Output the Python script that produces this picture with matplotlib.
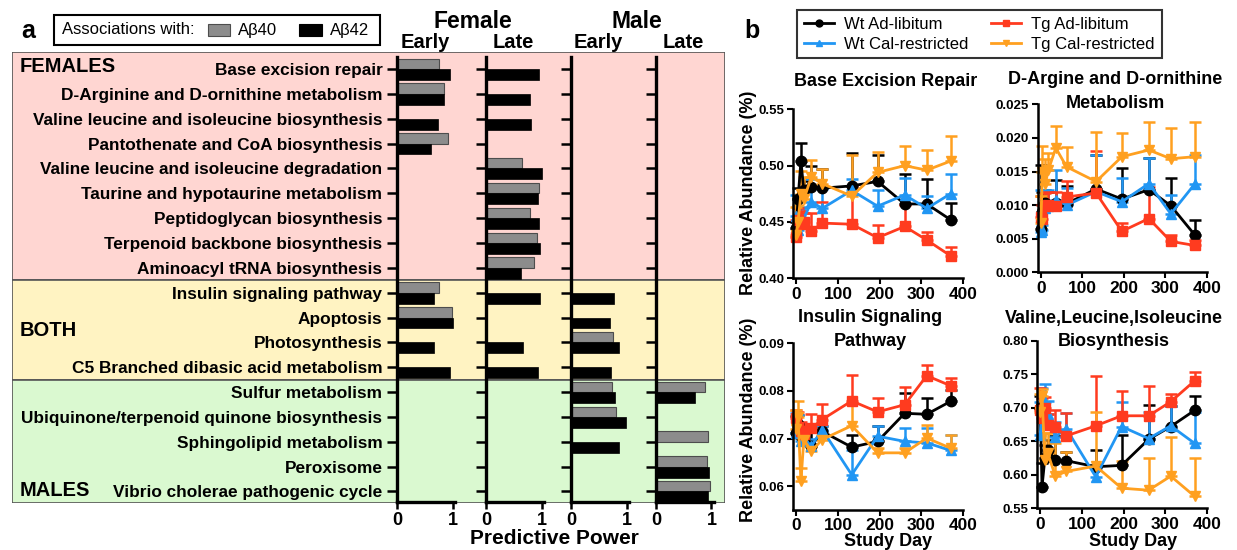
import matplotlib
matplotlib.use('Agg')
import matplotlib.pyplot as plt
from matplotlib.patches import Rectangle
from matplotlib.lines import Line2D
import numpy as np

plt.rcParams['font.family'] = ['Liberation Sans', 'DejaVu Sans']

W, H = 1237, 550
nan = np.nan

#----- PANEL a DATA -----
pathways = ['Base excision repair', 'D-Arginine and D-ornithine metabolism',
            'Valine leucine and isoleucine biosynthesis', 'Pantothenate and CoA biosynthesis',
            'Valine leucine and isoleucine degradation', 'Taurine and hypotaurine metabolism',
            'Peptidoglycan biosynthesis', 'Terpenoid backbone biosynthesis',
            'Aminoacyl tRNA biosynthesis', 'Insulin signaling pathway', 'Apoptosis',
            'Photosynthesis', 'C5 Branched dibasic acid metabolism', 'Sulfur metabolism',
            'Ubiquinone/terpenoid quinone biosynthesis', 'Sphingolipid metabolism',
            'Peroxisome', 'Vibrio cholerae pathogenic cycle']
group_names = ['FEMALES', 'BOTH', 'MALES']
group_colors = ['#ffd6d2', '#fff3c2', '#daf9d0']

#predictive power, nan = no association
fem_early_40 = [0.75, 0.85, nan, 0.91, nan, nan, nan, nan, nan, 0.76, 0.99, nan, nan, nan, nan, nan, nan, nan]
fem_early_42 = [0.95, 0.84, 0.73, 0.61, nan, nan, nan, nan, nan, 0.67, 1.01, 0.66, 0.95, nan, nan, nan, nan, nan]
fem_late_40 = [nan, nan, nan, nan, 0.65, 0.96, 0.80, 0.91, 0.86, nan, nan, nan, nan, nan, nan, nan, nan, nan]
fem_late_42 = [0.95, 0.79, 0.81, nan, 1.01, 0.94, 0.96, 0.97, 0.63, 0.98, nan, 0.67, 0.94, nan, nan, nan, nan, nan]
male_early_40 = [nan, nan, nan, nan, nan, nan, nan, nan, nan, nan, nan, 0.76, nan, 0.73, 0.81, nan, nan, nan]
male_early_42 = [nan, nan, nan, nan, nan, nan, nan, nan, nan, 0.77, 0.70, 0.86, 0.72, 0.79, 0.99, 0.86, nan, nan]
male_late_40 = [nan, nan, nan, nan, nan, nan, nan, nan, nan, nan, nan, nan, nan, 0.89, nan, 0.94, 0.91, 0.98]
male_late_42 = [nan, nan, nan, nan, nan, nan, nan, nan, nan, nan, nan, nan, nan, 0.71, nan, nan, 0.95, 0.94]

#----- PANEL b DATA -----
days = [0, 4, 11, 18, 36, 62, 133, 195, 260, 313, 370]
series_names = ['Wt Ad-libitum', 'Wt Cal-restricted', 'Tg Ad-libitum', 'Tg Cal-restricted']
series_colors = ['black', '#2196f3', '#ff3b1f', '#ffa020']
series_markers = ['o', '^', 's', 'v']

ber_wt_al = [0.445, 0.470, 0.504, 0.478, 0.481, 0.480, 0.482, 0.486, 0.466, 0.466, 0.452]
ber_wt_al_err = [0.005, 0.010, 0.016, 0.008, 0.019, 0.017, 0.029, 0.023, 0.027, 0.022, 0.015]
ber_wt_cr = [0.455, 0.443, 0.450, 0.453, 0.468, 0.462, 0.478, 0.464, 0.474, 0.462, 0.475]
ber_wt_cr_err = [0.019, 0.008, 0.012, 0.010, 0.020, 0.017, 0.010, 0.014, 0.015, 0.011, 0.018]
ber_tg_al = [0.437, 0.452, 0.448, 0.450, 0.442, 0.449, 0.448, 0.436, 0.446, 0.434, 0.420]
ber_tg_al_err = [0.015, 0.010, 0.012, 0.008, 0.016, 0.019, 0.034, 0.011, 0.019, 0.007, 0.008]
ber_tg_cr = [0.438, 0.450, 0.475, 0.470, 0.490, 0.484, 0.473, 0.494, 0.500, 0.496, 0.504]
ber_tg_cr_err = [0.025, 0.015, 0.020, 0.020, 0.015, 0.013, 0.036, 0.018, 0.017, 0.018, 0.022]

darg_wt_al = [0.0065, 0.0090, 0.0103, 0.0100, 0.0103, 0.0102, 0.0124, 0.0109, 0.0123, 0.0099, 0.0056]
darg_wt_al_err = [0.0095, 0.0030, 0.0020, 0.0020, 0.0034, 0.0026, 0.0050, 0.0046, 0.0047, 0.0041, 0.0022]
darg_wt_cr = [0.0060, 0.0063, 0.0095, 0.0098, 0.0108, 0.0100, 0.0120, 0.0105, 0.0132, 0.0087, 0.0131]
darg_wt_cr_err = [0.0063, 0.0008, 0.0028, 0.0025, 0.0044, 0.0025, 0.0055, 0.0035, 0.0038, 0.0028, 0.0043]
darg_tg_al = [0.0083, 0.0080, 0.0098, 0.0100, 0.0098, 0.0112, 0.0118, 0.0061, 0.0080, 0.0046, 0.0040]
darg_tg_al_err = [0.0030, 0.0020, 0.0020, 0.0020, 0.0022, 0.0024, 0.0062, 0.0013, 0.0047, 0.0010, 0.0008]
darg_tg_cr = [0.0073, 0.0150, 0.0132, 0.0152, 0.0185, 0.0157, 0.0135, 0.0172, 0.0182, 0.0169, 0.0172]
darg_tg_cr_err = [0.0040, 0.0038, 0.0037, 0.0025, 0.0033, 0.0029, 0.0074, 0.0035, 0.0042, 0.0045, 0.0052]

ins_wt_al = [0.0712, 0.0730, 0.0705, 0.0700, 0.0685, 0.0715, 0.0682, 0.0694, 0.0753, 0.0751, 0.0778]
ins_wt_al_err = [0.0035, 0.0020, 0.0020, 0.0020, 0.0041, 0.0011, 0.0026, 0.0033, 0.0042, 0.0034, 0.0024]
ins_wt_cr = [0.0712, 0.0730, 0.0695, 0.0700, 0.0684, 0.0719, 0.0624, 0.0705, 0.0694, 0.0691, 0.0675]
ins_wt_cr_err = [0.0041, 0.0020, 0.0020, 0.0030, 0.0015, 0.0007, 0.0053, 0.0021, 0.0028, 0.0031, 0.0033]
ins_tg_al = [0.0743, 0.0725, 0.0715, 0.0710, 0.0722, 0.0740, 0.0779, 0.0756, 0.0771, 0.0832, 0.0811]
ins_tg_al_err = [0.0017, 0.0030, 0.0020, 0.0020, 0.0030, 0.0033, 0.0055, 0.0030, 0.0037, 0.0023, 0.0016]
ins_tg_cr = [0.0720, 0.0745, 0.0610, 0.0698, 0.0673, 0.0698, 0.0727, 0.0670, 0.0670, 0.0701, 0.0680]
ins_tg_cr_err = [0.0040, 0.0033, 0.0028, 0.0020, 0.0010, 0.0010, 0.0047, 0.0010, 0.0010, 0.0028, 0.0028]

val_wt_al = [0.700, 0.582, 0.625, 0.637, 0.622, 0.621, 0.612, 0.614, 0.653, 0.672, 0.696]
val_wt_al_err = [0.017, 0.035, 0.020, 0.015, 0.036, 0.013, 0.025, 0.045, 0.051, 0.030, 0.021]
val_wt_cr = [0.659, 0.700, 0.709, 0.690, 0.657, 0.669, 0.597, 0.672, 0.654, 0.673, 0.647]
val_wt_cr_err = [0.050, 0.030, 0.026, 0.020, 0.022, 0.023, 0.013, 0.037, 0.040, 0.030, 0.046]
val_tg_al = [0.697, 0.684, 0.700, 0.675, 0.671, 0.658, 0.673, 0.688, 0.688, 0.709, 0.740]
val_tg_al_err = [0.033, 0.030, 0.016, 0.015, 0.026, 0.034, 0.074, 0.037, 0.044, 0.011, 0.013]
val_tg_cr = [0.694, 0.718, 0.622, 0.632, 0.598, 0.605, 0.613, 0.580, 0.577, 0.598, 0.568]
val_tg_cr_err = [0.027, 0.010, 0.040, 0.030, 0.050, 0.029, 0.081, 0.041, 0.048, 0.059, 0.057]

#----- HELPERS -----
def fx(x):
    return x / W

def fy(y):
    return 1 - y / H

def box(l, t, r, b):
    return [fx(l), fy(b), (r - l) / W, (b - t) / H]

fig = plt.figure(figsize=(W / 100, H / 100), dpi=100)

#----- PANEL a -----
row_h = 24.85
nrows = len(pathways)
rows = np.arange(nrows)

bg = fig.add_axes(box(12, 52, 725, 503))
bg.set_xlim(0, 1)
bg.set_ylim(nrows - 1 + (503 - 491.5) / row_h, -(69 - 52) / row_h)
bg.axis('off')
edges = [bg.get_ylim()[1], 8.5, 12.5, bg.get_ylim()[0]]
for g in range(3):
    bg.add_patch(Rectangle((0, edges[g]), 1, edges[g + 1] - edges[g],
                           facecolor=group_colors[g], edgecolor='#555555', lw=1.2))
for g, name in enumerate(group_names):
    y = [67, 330, 490][g]
    fig.text(fx(20), fy(y), name, fontsize=14.5, fontweight='bold', va='center', ha='left')

panels = [(fem_early_40, fem_early_42), (fem_late_40, fem_late_42),
          (male_early_40, male_early_42), (male_late_40, male_late_42)]
bar_left = [397, 486, 571, 656]
unit = 55.5
for k, (v40, v42) in enumerate(panels):
    ax = fig.add_axes(box(bar_left[k], 57, bar_left[k] + 1.04 * unit, 502))
    ax.set_facecolor('none')
    v40 = np.array(v40)
    v42 = np.array(v42)
    m = ~np.isnan(v40)
    ax.barh(rows[m] - 0.21, v40[m], height=0.42, color='#8c8c8c', edgecolor='#4d4d4d', lw=0.8)
    m = ~np.isnan(v42)
    ax.barh(rows[m] + 0.22, v42[m], height=0.44, color='black', edgecolor='black', lw=0.5)
    ax.set_xlim(0, 1.04)
    ax.set_ylim(nrows - 1 + (502 - 491.5) / row_h, -(69 - 57) / row_h)
    ax.set_yticks(rows)
    if k == 0:
        ax.set_yticklabels(pathways, fontsize=12.4, fontweight='bold')
    else:
        ax.set_yticklabels([])
    ax.set_xticks([0, 1])
    ax.set_xticklabels(['0', '1'], fontsize=13, fontweight='bold')
    for s in ['top', 'right']:
        ax.spines[s].set_visible(False)
    for s in ['left', 'bottom']:
        ax.spines[s].set_linewidth(2.4)
    ax.tick_params(axis='y', direction='out', length=7.5, width=1.8, pad=3)
    ax.tick_params(axis='x', direction='out', length=5, width=1.8, pad=2)

fig.text(fx(473), fy(21), 'Female', fontsize=16.5, fontweight='bold', ha='center', va='center')
fig.text(fx(637), fy(21), 'Male', fontsize=16.5, fontweight='bold', ha='center', va='center')
for x, lab in zip([425, 513, 598, 683], ['Early', 'Late', 'Early', 'Late']):
    fig.text(fx(x), fy(42), lab, fontsize=14.5, fontweight='bold', ha='center', va='center')
fig.text(fx(554), fy(538), 'Predictive Power', fontsize=15, fontweight='bold', ha='center', va='center')

#legend of panel a
fig.patches.append(Rectangle((fx(54), fy(45)), (380 - 54) / W, 30 / H, transform=fig.transFigure,
                             facecolor='white', edgecolor='black', lw=1.5))
fig.text(fx(62), fy(30), 'Associations with:', fontsize=12, va='center', ha='left')
fig.patches.append(Rectangle((fx(208), fy(36)), 22 / W, 12 / H, transform=fig.transFigure,
                             facecolor='#8c8c8c', edgecolor='#4d4d4d', lw=0.8))
fig.text(fx(238), fy(30), 'Aβ40', fontsize=12, va='center', ha='left')
fig.patches.append(Rectangle((fx(299), fy(36)), 23 / W, 12 / H, transform=fig.transFigure,
                             facecolor='black', edgecolor='black', lw=0.8))
fig.text(fx(330), fy(30), 'Aβ42', fontsize=12, va='center', ha='left')
fig.text(fx(28), fy(31), 'a', fontsize=18, fontweight='bold', ha='center', va='center')

#----- PANEL b -----
charts = [
    ([ber_wt_al, ber_wt_cr, ber_tg_al, ber_tg_cr], [ber_wt_al_err, ber_wt_cr_err, ber_tg_al_err, ber_tg_cr_err],
     (793, 109.3, 963, 278.3), (0.40, 0.55), np.arange(0.40, 0.551, 0.05), '%.2f'),
    ([darg_wt_al, darg_wt_cr, darg_tg_al, darg_tg_cr], [darg_wt_al_err, darg_wt_cr_err, darg_tg_al_err, darg_tg_cr_err],
     (1037.5, 104.3, 1207, 272.3), (0, 0.025), np.arange(0, 0.0251, 0.005), '%.3f'),
    ([ins_wt_al, ins_wt_cr, ins_tg_al, ins_tg_cr], [ins_wt_al_err, ins_wt_cr_err, ins_tg_al_err, ins_tg_cr_err],
     (793, 343.3, 963, 510), (0.055, 0.09), np.arange(0.06, 0.0901, 0.01), '%.2f'),
    ([val_wt_al, val_wt_cr, val_tg_al, val_tg_cr], [val_wt_al_err, val_wt_cr_err, val_tg_al_err, val_tg_cr_err],
     (1037, 340.7, 1207, 508.3), (0.55, 0.80), np.arange(0.55, 0.801, 0.05), '%.2f'),
]
titles = [(['Base Excision Repair'], 886, [82]),
          (['D-Argine and D-ornithine', 'Metabolism'], 1115, [80, 103]),
          (['Insulin Signaling', 'Pathway'], 870, [318, 342]),
          (['Valine,Leucine,Isoleucine', 'Biosynthesis'], 1114, [319, 342])]

for c, (vals, errs, pos, ylim, yt, fmt) in enumerate(charts):
    l, t, r, b = pos
    ax = fig.add_axes(box(l, t, r, b))
    for s in range(4):
        e = np.array(errs[s])
        ax.errorbar(days, vals[s], yerr=[np.zeros_like(e), e], color=series_colors[s],
                    marker=series_markers[s], ms=7.5, lw=2, elinewidth=1.8,
                    capsize=4, capthick=1.8, clip_on=False)
    ax.set_xlim(-8, 400)
    ax.set_ylim(*ylim)
    ax.set_xticks([0, 100, 200, 300, 400])
    ax.set_yticks(yt)
    ax.set_yticklabels([fmt % v for v in yt], fontsize=9.5, fontweight='bold')
    ax.set_xticklabels(['0', '100', '200', '300', '400'], fontsize=12.5, fontweight='bold')
    for s in ['top', 'right']:
        ax.spines[s].set_visible(False)
    for s in ['left', 'bottom']:
        ax.spines[s].set_linewidth(1.8)
    ax.tick_params(direction='out', length=4, width=1.5, pad=2)
    lines, xc, ys = titles[c]
    for txt, yy in zip(lines, ys):
        fig.text(fx(xc), fy(yy), txt, fontsize=13, fontweight='bold', ha='center', va='center')

fig.text(fx(749), fy(193), 'Relative Abundance (%)', fontsize=13, fontweight='bold',
         rotation=90, ha='center', va='center')
fig.text(fx(749), fy(420), 'Relative Abundance (%)', fontsize=13, fontweight='bold',
         rotation=90, ha='center', va='center')
fig.text(fx(888), fy(541), 'Study Day', fontsize=13, fontweight='bold', ha='center', va='center')
fig.text(fx(1133), fy(541), 'Study Day', fontsize=13, fontweight='bold', ha='center', va='center')
fig.text(fx(752), fy(31), 'b', fontsize=18, fontweight='bold', ha='center', va='center')

handles = [Line2D([], [], color=series_colors[s], marker=series_markers[s], ms=5, lw=2)
           for s in range(4)]
leg = fig.legend(handles, series_names, ncol=2, loc='upper left',
                 bbox_to_anchor=(fx(797), fy(10)), borderaxespad=0, fontsize=12,
                 frameon=True, fancybox=False, edgecolor='black', handlelength=1.8,
                 columnspacing=1.4, borderpad=0.4, labelspacing=0.3, handletextpad=0.6)
leg.get_frame().set_linewidth(1.5)

fig.savefig('out.png', dpi=100)
